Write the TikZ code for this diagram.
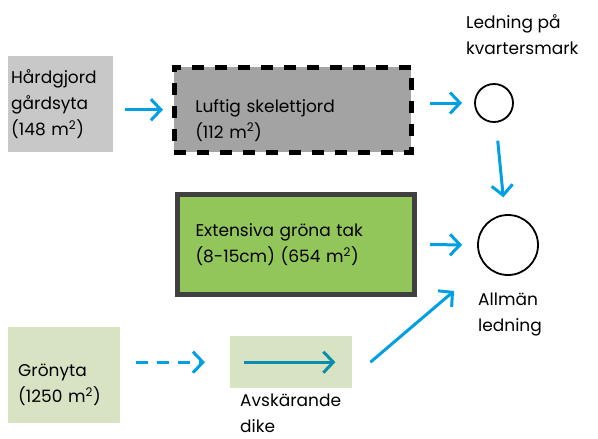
\documentclass[tikz,border=0pt]{standalone}
\usepackage{fontspec}
\setmainfont{Poppins}
\usetikzlibrary{arrows.meta}
\definecolor{flowBlue}{RGB}{0,160,226}
\definecolor{ditchBlue}{RGB}{8,142,172}
\definecolor{hardGrey}{RGB}{200,200,200}
\definecolor{skelGrey}{RGB}{163,163,163}
\definecolor{roofGreen}{RGB}{146,197,90}
\definecolor{roofEdge}{RGB}{64,64,64}
\definecolor{lawnGreen}{RGB}{216,227,195}
\tikzstyle{myText} = [font=\fontsize{17}{26}\selectfont]
\tikzstyle{myBox} = [rectangle,myText,align=left,anchor=north west,inner ysep=0pt]
\tikzstyle{myArrow} = [draw=flowBlue,line width=3pt,-{Straight Barb[length=10pt,width=21pt]}]
\tikzstyle{myWell} = [draw,circle,line width=1.8pt,inner sep=0pt]

\begin{document}
\begin{tikzpicture}[x=1pt,y=-1pt]
			\useasboundingbox (0,0) rectangle (598,439);
			\node[myBox,fill=hardGrey,text width=99pt,inner xsep=3pt,minimum height=96pt] (n1) at (8,56) {Hårdgjord\\gårdsyta\\(148 m\textsuperscript{2})};
			\node[myBox,fill=skelGrey,draw,line width=4.5pt,dash pattern=on 12pt off 11pt,text width=195pt,inner xsep=21pt,minimum height=85pt,text depth=8pt] (n2) at (172,65) {Luftig skelettjord\\(112 m\textsuperscript{2})};
			\node[myBox,fill=roofGreen,draw=roofEdge,line width=5pt,text width=201pt,inner xsep=18pt,minimum height=100pt] (n3) at (175,192) {Extensiva gröna tak\\(8-15cm) (654 m\textsuperscript{2})};
			\node[myBox,fill=lawnGreen,text width=92pt,inner xsep=10pt,minimum height=96pt,text depth=9pt] (n4) at (8,327) {Grönyta\\(1250 m\textsuperscript{2})};
			\node[rectangle,fill=lawnGreen,anchor=north west,minimum width=122pt,minimum height=52pt] (n5) at (230,336) {};
			\node[myWell,minimum size=38pt] (n6) at (494,103) {};
			\node[myWell,minimum size=60pt] (n7) at (508,245) {};
			\node[myText,align=left,anchor=south west,inner sep=0pt] (n8) at (466,55) {Ledning på\\kvartersmark};
			\node[myText,align=left,anchor=north west,inner sep=0pt] (n9) at (478,293) {Allmän\\ledning};
			\node[myText,align=left,anchor=north west,inner sep=0pt] (n10) at (240,394) {Avskärande\\dike};
			\draw[myArrow,shorten <=12pt,shorten >=9pt] (n1.east |- n2) -- (n2.west);
			\draw[myArrow,shorten <=16pt,shorten >=12pt] (n2.east |- n6) -- (n6.west);
			\draw[myArrow,shorten <=13pt,shorten >=15pt] (n3.east) -- (n7.west);
			\draw[myArrow,shorten <=18pt,shorten >=17pt] (n6) -- (n7);
			\draw[myArrow,dash pattern=on 12pt off 9pt,shorten <=16pt,shorten >=25pt] (n4.east |- n5) -- (n5.west);
			\draw[myArrow,draw=ditchBlue,shorten <=14pt,shorten >=17pt] (n5.west) -- (n5.east);
			\draw[myArrow,shorten >=40pt] ([xshift=18pt]n5.east) -- (n7);
		\end{tikzpicture}
\end{document}
